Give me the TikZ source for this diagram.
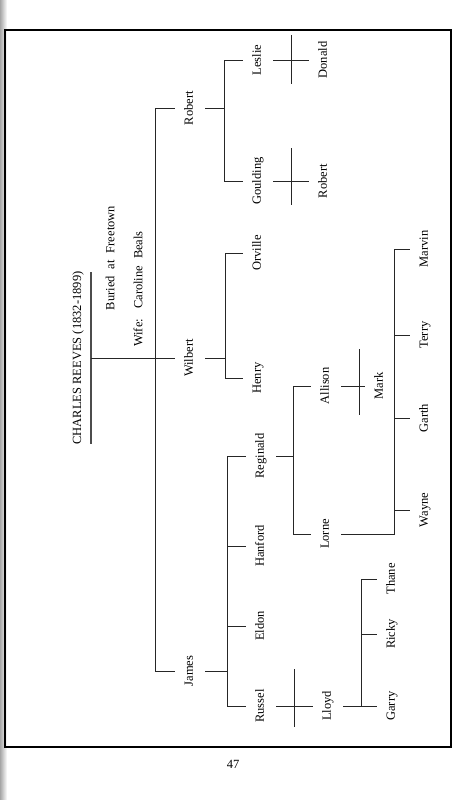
\documentclass[tikz,border=0pt]{standalone}
\usepackage{fontspec}
\setmainfont{Liberation Serif}
\usetikzlibrary{calc}
\tikzset{
  person/.style={rotate=90, inner xsep=0pt, inner ysep=10pt, text height=8pt, text depth=2.5pt,
    font=\fontsize{12.5}{14}\selectfont},
  note/.style={rotate=90, inner sep=0pt, font=\fontsize{12.5}{14}\selectfont},
  link/.style={line width=0.9pt, black!85},
  frame/.style={line width=1.6pt}
}
\begin{document}
\begin{tikzpicture}[x=1pt,y=-1pt]
\useasboundingbox (0,0) rectangle (470,800);
\shade[left color=black!35, right color=white] (0,0) rectangle (7,800);
\draw[frame] (5,30) rectangle (451,747);
\node[font=\fontsize{12.5}{14}\selectfont] (page) at (233,764) {47};

% title block
\node[rotate=90, inner xsep=0pt, inner ysep=7.5pt, text height=8.5pt, text depth=2.5pt,
  font=\fontsize{12.5}{14}\selectfont] (title) at (78,358) {CHARLES\ REEVES\ (1832-1899)};
\draw[line width=1.8pt, black!70] ([yshift=-1pt]title.south east) -- ([yshift=1pt]title.south west);
\node[note] (buried) at (110,258) {Buried\hspace{0.55em}at\hspace{0.55em}Freetown};
\node[note] (wife) at (138,289) {Wife:\hspace{0.8em}Caroline\hspace{0.55em}Beals};

% generation 1
\node[person] (robert) at (190,108) {Robert};
\node[person] (wilbert) at (190,358) {Wilbert};
\node[person] (james) at (190,671) {James};
\coordinate (barC) at (155,0);
\draw[link] (title.south) -- (wilbert.north);
\draw[link] (robert.north) -- (robert.north -| barC) -- (james.north -| barC) -- (james.north);

% generation 2
\node[person] (leslie) at (258,60) {Leslie};
\node[person] (goulding) at (258,181) {Goulding};
\node[person] (orville) at (258,253) {Orville};
\node[person] (henry) at (258,378) {Henry};
\node[person] (reginald) at (261,456) {Reginald};
\node[person] (hanford) at (261,546) {Hanford};
\node[person] (eldon) at (261,626) {Eldon};
\node[person] (russel) at (261,706) {Russel};

\coordinate (barR) at (224,0);
\draw[link] (robert.south) -- (robert.south -| barR);
\draw[link] (leslie.north) -- (leslie.north -| barR) -- (goulding.north -| barR) -- (goulding.north);

\coordinate (barW) at (225,0);
\draw[link] (wilbert.south) -- (wilbert.south -| barW);
\draw[link] (orville.north) -- (orville.north -| barW) -- (henry.north -| barW) -- (henry.north);

\coordinate (barJ) at (227,0);
\draw[link] (james.south) -- (james.south -| barJ);
\draw[link] (reginald.north) -- (reginald.north -| barJ) -- (russel.north -| barJ) -- (russel.north);
\draw[link] (hanford.north) -- (hanford.north -| barJ);
\draw[link] (eldon.north) -- (eldon.north -| barJ);

% generation 3
\node[person] (donald) at (324,60) {Donald};
\node[person] (robertb) at (324,181) {Robert};
\node[person] (allison) at (326,386) {Allison};
\node[person] (lorne) at (326,534) {Lorne};
\node[person] (lloyd) at (328,706) {Lloyd};

\draw[link] (leslie.south) -- (donald.north);
\draw[link] ($(leslie.south)!0.5!(donald.north)$) ++(0,-25) -- ++(0,49);
\draw[link] (goulding.south) -- (robertb.north);
\draw[link] ($(goulding.south)!0.5!(robertb.north)$) ++(0,-33) -- ++(0,57);

\coordinate (barRg) at (293,0);
\draw[link] (reginald.south) -- (reginald.south -| barRg);
\draw[link] (allison.north) -- (allison.north -| barRg) -- (lorne.north -| barRg) -- (lorne.north);

\draw[link] (russel.south) -- (lloyd.north);
\draw[link] ($(russel.south)!0.5!(lloyd.north)$) ++(0,-37) -- ++(0,58);

% generation 4
\node[person] (mark) at (380,386) {Mark};
\node[person] (marvin) at (425,249) {Marvin};
\node[person] (terry) at (425,335) {Terry};
\node[person] (garth) at (425,418) {Garth};
\node[person] (wayne) at (425,510) {Wayne};
\node[person] (thane) at (392,579) {Thane};
\node[person] (ricky) at (392,634) {Ricky};
\node[person] (garry) at (392,706) {Garry};

\draw[link] (allison.south) -- (mark.north);
\draw[link] ($(allison.south)!0.765!(mark.north)$) ++(0,-37) -- ++(0,66);

\coordinate (barL) at (394,0);
\draw[link] (lorne.south) -- (lorne.south -| barL) -- (marvin.north -| barL) -- (marvin.north);
\draw[link] (terry.north) -- (terry.north -| barL);
\draw[link] (garth.north) -- (garth.north -| barL);
\draw[link] (wayne.north) -- (wayne.north -| barL);

\coordinate (barLl) at (361,0);
\draw[link] (lloyd.south) -- (garry.north);
\draw[link] (garry.north -| barLl) -- (thane.north -| barLl) -- (thane.north);
\draw[link] (ricky.north) -- (ricky.north -| barLl);
\end{tikzpicture}
\end{document}
